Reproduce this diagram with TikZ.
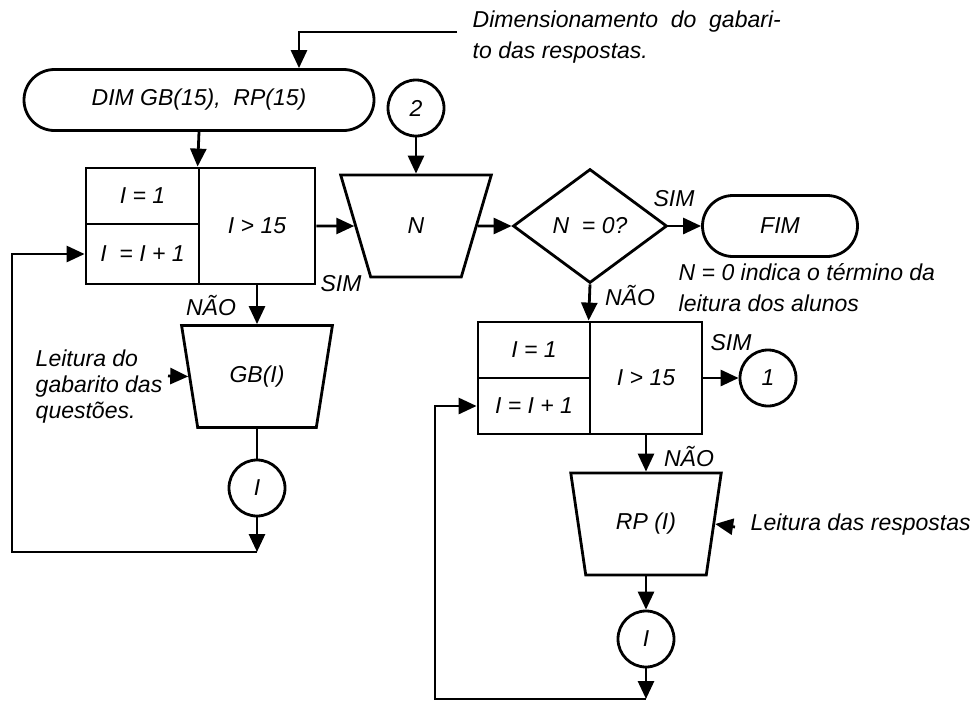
\documentclass[tikz,border=0pt]{standalone}
\usepackage{fontspec}
\setmainfont{Liberation Sans}
\usetikzlibrary{shapes.geometric,shapes.misc,arrows.meta}
\tikzset{fc/.style={x=1pt,y=-1pt,line width=2.8pt,font=\fontsize{23}{26}\selectfont\itshape},
  arr/.style={-{Triangle[length=18pt,width=16pt]}},
  term/.style={draw,rounded rectangle,minimum height=61pt,inner sep=0pt},
  cell/.style={draw,rectangle,inner sep=0pt},
  inp/.style={draw,trapezium,trapezium angle=70.8,trapezium stretches=true,shape border rotate=180,minimum width=151pt,minimum height=102pt,inner sep=0pt},
  conn/.style={draw,circle,minimum size=56pt,inner sep=0pt},
  dec/.style={draw,diamond,minimum width=154pt,minimum height=114pt,inner sep=0pt}}

\begin{document}
\begin{tikzpicture}[fc]
  \fill[white] (0,0) rectangle (978,705);\useasboundingbox (0,0) rectangle (978,705);
  % upper loop
  \node[term,minimum width=350pt] (dim) at (199,100){DIM GB(15),\ \ RP(15)};
  \node[cell,minimum width=113pt,minimum height=56pt] (init1) at (142.5,196){I = 1};
  \node[cell,minimum width=113pt,minimum height=60pt] (inc1) at (142.5,254){I \ = I + 1};
  \node[cell,minimum width=116pt,minimum height=116pt] (test1) at (257,226){I > 15};
  \node[inp] (gb) at (257,376.5){GB(I)};
  \node[conn] (ci1) at (257,488){I};
  \coordinate (lp1) at (257,552);\coordinate (lc1) at (12,552);
  \node[conn] (c2) at (416,108){2};
  \node[inp] (n) at (416,226){N};
  \node[dec] (dec) at (590,226){N \ = 0?};
  \node[term,minimum width=155pt] (fim) at (780,226){FIM};
  % lower loop
  \node[cell,minimum width=112pt,minimum height=56pt] (init2) at (534,350){I = 1};
  \node[cell,minimum width=112pt,minimum height=56pt] (inc2) at (534,406){I = I + 1};
  \node[cell,minimum width=112pt,minimum height=112pt] (test2) at (646,378){I > 15};
  \node[conn] (c1) at (768,378){1};
  \node[inp] (rp) at (646,524){RP (I)};
  \node[conn] (ci2) at (646,639){I};
  \coordinate (lp2) at (646,699);\coordinate (lc2) at (435,699);
  % notes
  \coordinate (nt1) at (457,32);\coordinate (nt2) at (168,376);\coordinate (nt3) at (735,527);
  \node[anchor=west,align=left,font=\fontsize{23}{31}\selectfont\itshape] (t1) at (468,37.5){Dimensionamento\ \ do\ \ gabari-\\to das respostas.};
  \node[anchor=west,align=left,font=\fontsize{23}{31}\selectfont\itshape] (t2) at (674,287.5){N = 0 indica o término da\\leitura dos alunos};
  \node[anchor=west,align=left] (t3) at (31,387){Leitura do\\gabarito das\\questões.};
  \node[anchor=west] (t4) at (746,525){Leitura das respostas};
  % labels
  \node (s1) at (341,284){SIM};\node (n1) at (211,306){NÃO};
  \node (s2) at (674,199){SIM};\node (n2) at (630,296){NÃO};
  \node (s3) at (731,343){SIM};\node (n3) at (689,457){NÃO};
  % connectors
  \draw[arr] (nt1) -| ([xshift=100pt]dim.north);
  \draw[arr] (dim.south) -- (test1.north west);
  \draw[arr] (test1.east) -- (n.180);\draw[arr] (c2) -- (n.90);
  \draw[arr] (n.0) -- (dec.west);\draw[arr] (dec.east) -- (fim.west);
  \draw[arr] (test1.south) -- (gb.90);\draw (gb.270) -- (ci1);
  \draw[arr] (nt2) -- (gb.180);
  \draw[arr] (ci1) -- (lp1);\draw[arr] (lp1) -- (lc1) |- (inc1.west);
  \draw[arr] (dec.south) -- (test2.north west);
  \draw[arr] (test2.east) -- (c1);
  \draw[arr] (test2.south) -- (rp.90);\draw[arr] (rp.270) -- (ci2);
  \draw[arr] (nt3) -- (rp.0);
  \draw[arr] (ci2) -- (lp2);\draw[arr] (lp2) -- (lc2) |- (inc2.west);
\end{tikzpicture}
\end{document}
